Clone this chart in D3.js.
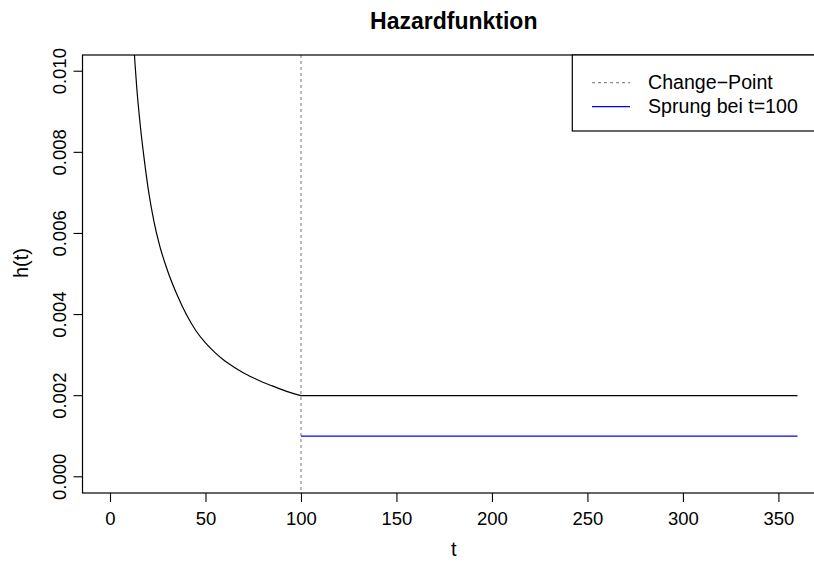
<!DOCTYPE html>
<html>
<head>
<meta charset="utf-8">
<script src="https://cdn.jsdelivr.net/npm/d3@7"></script>
<style>
  html, body { margin: 0; padding: 0; background: #fff; }
  svg { display: block; font-family: "Liberation Sans", Arial, Helvetica, sans-serif; }
</style>
</head>
<body>
<svg id="chart" width="814" height="562"></svg>
<script>
// ---- Data ----
const curveT = [11, 12, 13, 14, 16, 18, 20, 23, 26, 30, 35, 40, 45, 50, 55, 60, 65, 70, 75, 80, 85, 90, 95, 100];
const curveH = [0.0119, 0.0110, 0.01025, 0.0096, 0.0086, 0.0078, 0.0071, 0.0063, 0.0057, 0.0051, 0.0045, 0.0040, 0.0036, 0.0033,
                0.00306, 0.00286, 0.00270, 0.00256, 0.00244, 0.00233, 0.00224, 0.00215, 0.00207, 0.0020];
const flatT = [100, 360];
const flatH = [0.002, 0.002];
const jumpT = [100, 360];
const jumpH = [0.001, 0.001];
const changePoint = 100;
const xTicks = [0, 50, 100, 150, 200, 250, 300, 350];
const yTicks = [0, 0.002, 0.004, 0.006, 0.008, 0.010];
const legendLabels = ["Change\u2212Point", "Sprung bei t=100"];
const titleText = "Hazardfunktion";
const xLabel = "t";
const yLabel = "h(t)";

// ---- Layout ----
const svg = d3.select("#chart");
const pLeft = 82.5, pRight = 825, pTop = 55, pBottom = 493;
const x = d3.scaleLinear().domain([-14.4, 374.4]).range([pLeft, pRight]);
const y = d3.scaleLinear().domain([-0.0004, 0.0104]).range([pBottom, pTop]);

svg.append("defs").append("clipPath").attr("id", "plotclip")
  .append("rect").attr("x", pLeft).attr("y", pTop)
  .attr("width", pRight - pLeft).attr("height", pBottom - pTop);

const plot = svg.append("g").attr("clip-path", "url(#plotclip)");

// vertical change-point line
plot.append("line")
  .attr("x1", x(changePoint)).attr("x2", x(changePoint))
  .attr("y1", pTop).attr("y2", pBottom)
  .attr("stroke", "#8c8c8c").attr("stroke-width", 1.2)
  .attr("stroke-dasharray", "3,3");

const smooth = d3.line().x(d => x(d[0])).y(d => y(d[1])).curve(d3.curveMonotoneX);
const straight = d3.line().x(d => x(d[0])).y(d => y(d[1]));

plot.append("path")
  .datum(curveT.map((t, i) => [t, curveH[i]]))
  .attr("d", smooth)
  .attr("fill", "none").attr("stroke", "#000").attr("stroke-width", 1.2);

plot.append("path")
  .datum(flatT.map((t, i) => [t, flatH[i]]))
  .attr("d", straight)
  .attr("fill", "none").attr("stroke", "#000").attr("stroke-width", 1.2);

plot.append("path")
  .datum(jumpT.map((t, i) => [t, jumpH[i]]))
  .attr("d", straight)
  .attr("fill", "none").attr("stroke", "#0000ff").attr("stroke-width", 1.2);

// box
svg.append("rect")
  .attr("x", pLeft).attr("y", pTop)
  .attr("width", pRight - pLeft).attr("height", pBottom - pTop)
  .attr("fill", "none").attr("stroke", "#000").attr("stroke-width", 1.2);

// x axis
const xAxis = svg.append("g").attr("transform", `translate(0,${pBottom})`)
  .call(d3.axisBottom(x).tickValues(xTicks).tickSize(9).tickPadding(10).tickFormat(d3.format("d")));
xAxis.select(".domain").remove();
xAxis.selectAll("line").attr("stroke", "#000").attr("stroke-width", 1.1);
xAxis.selectAll("text").attr("font-size", 18.5).attr("fill", "#000")
  .attr("font-family", "'Liberation Sans', Arial, sans-serif");

// y axis ticks
const yAxis = svg.append("g");
yAxis.selectAll("line").data(yTicks).join("line")
  .attr("x1", pLeft - 9).attr("x2", pLeft)
  .attr("y1", d => y(d)).attr("y2", d => y(d))
  .attr("stroke", "#000").attr("stroke-width", 1.1);
yAxis.selectAll("text").data(yTicks).join("text")
  .attr("transform", d => `translate(66,${y(d)}) rotate(-90)`)
  .attr("text-anchor", "middle")
  .attr("font-size", 18.5).attr("fill", "#000")
  .text(d => d3.format(".3f")(d));

// labels
svg.append("text").attr("x", (pLeft + pRight) / 2).attr("y", 28.5)
  .attr("text-anchor", "middle").attr("font-size", 23).attr("font-weight", "bold")
  .text(titleText);
svg.append("text").attr("x", (pLeft + pRight) / 2).attr("y", 556)
  .attr("text-anchor", "middle").attr("font-size", 20).text(xLabel);
svg.append("text").attr("transform", "translate(28,263) rotate(-90)")
  .attr("text-anchor", "middle").attr("font-size", 20).text(yLabel);

// legend
const lg = svg.append("g");
lg.append("rect").attr("x", 572.3).attr("y", pTop)
  .attr("width", pRight - 572.3).attr("height", 76)
  .attr("fill", "#fff").attr("stroke", "#000").attr("stroke-width", 1.2);
const legendStyles = [
  { color: "#8c8c8c", dash: "3,3" },
  { color: "#0000ff", dash: null }
];
legendLabels.forEach((lab, i) => {
  const cy = 82.7 + i * 24;
  lg.append("line").attr("x1", 592).attr("x2", 630).attr("y1", cy).attr("y2", cy)
    .attr("stroke", legendStyles[i].color).attr("stroke-width", 1.2)
    .attr("stroke-dasharray", legendStyles[i].dash);
  lg.append("text").attr("x", 648).attr("y", cy + 6.4)
    .attr("font-size", 19.6).text(lab);
});
</script>
</body>
</html>
